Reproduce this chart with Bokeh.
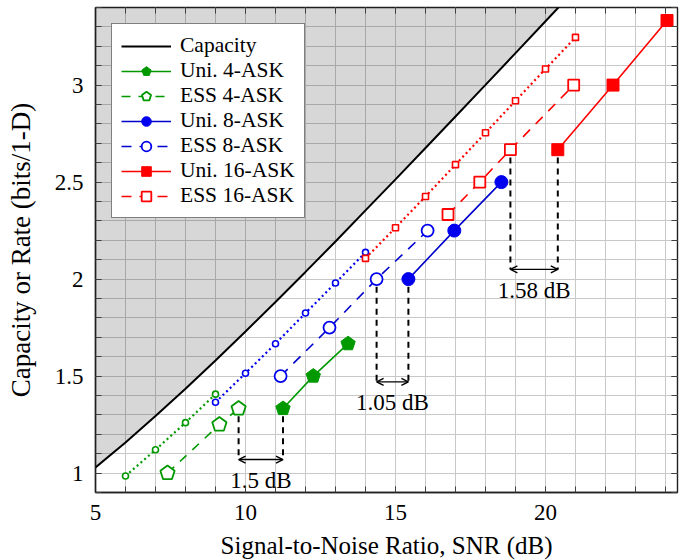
from bokeh.plotting import figure
from bokeh.models import (ColumnDataSource, Legend, LegendItem, LinearAxis,
                          FixedTicker, Range1d, Arrow, OpenHead)
from bokeh.core.properties import value
from bokeh.embed import file_html
from bokeh.resources import INLINE

# ---------------- data ----------------
cap_snr = [5, 6, 7, 8, 9, 10, 11, 12, 13, 14, 15, 16, 17, 18, 19, 20, 21]
cap_rate = [1.029, 1.158, 1.294, 1.435, 1.580, 1.730, 1.882, 2.037, 2.194,
            2.354, 2.514, 2.676, 2.838, 3.001, 3.165, 3.329, 3.494]

fine4_snr = [6, 7, 8, 9]
fine4_rate = [0.985, 1.12, 1.26, 1.407]
fine8_snr = [9, 10, 11, 12, 13, 14]
fine8_rate = [1.365, 1.515, 1.667, 1.825, 1.98, 2.138]
fine16_snr = [14, 15, 16, 17, 18, 19, 20, 21]
fine16_rate = [2.107, 2.265, 2.426, 2.59, 2.754, 2.919, 3.083, 3.246]

uni4_snr = [11.25, 12.26, 13.42]
uni4_rate = [1.333, 1.5, 1.667]
ess4_snr = [7.4, 9.13, 9.77]
ess4_rate = [1.0, 1.25, 1.333]
uni8_snr = [15.43, 16.96, 18.53]
uni8_rate = [2.0, 2.25, 2.5]
ess8_snr = [11.17, 12.8, 14.37, 16.07]
ess8_rate = [1.5, 1.75, 2.0, 2.25]
uni16_snr = [20.41, 22.25, 24.05]
uni16_rate = [2.667, 3.0, 3.333]
ess16_snr = [16.75, 17.81, 18.83, 20.94]
ess16_rate = [2.333, 2.5, 2.667, 3.0]

gap_labels = ["1.5 dB", "1.05 dB", "1.58 dB"]
gap_from = [9.77, 14.37, 18.83]
gap_to = [11.25, 15.43, 20.41]
gap_rate = [1.333, 2.0, 2.667]
gap_arrow = [1.07, 1.47, 2.05]

x_ticks = [5, 10, 15, 20]
y_ticks = [1, 1.5, 2, 2.5, 3]

# ---------------- styling ----------------
FONT = "Liberation Serif"
GREEN = "#009900"
BLUE = "#0000ee"
BLUE_LINE = "#0000cc"
RED = "#ff0000"
GRID = "#c8c8c8"
X0, X1, Y0, Y1 = 5, 24.4, 0.9, 3.4

p = figure(frame_width=582, frame_height=485,
           x_range=Range1d(X0, X1), y_range=Range1d(Y0, Y1),
           output_backend="svg", toolbar_location=None,
           min_border_left=95, min_border_right=3, min_border_top=7,
           min_border_bottom=67)
p.background_fill_color = "white"
p.border_fill_color = "white"
p.outline_line_color = "#202020"
p.outline_line_width = 1.4

x_minor = list(range(5, 25))
y_minor = [round(0.9 + 0.1 * i, 1) for i in range(26)]
xt = FixedTicker(ticks=x_ticks, minor_ticks=x_minor)
yt = FixedTicker(ticks=y_ticks, minor_ticks=y_minor)

for ax, tk in ((p.xaxis[0], xt), (p.yaxis[0], yt)):
    ax.ticker = tk
    ax.major_tick_in = 6
    ax.major_tick_out = 0
    ax.minor_tick_in = 6
    ax.minor_tick_out = 0
    ax.major_tick_line_color = "#404040"
    ax.minor_tick_line_color = "#404040"
    ax.axis_line_color = "#202020"
    ax.axis_line_width = 1.4
    ax.major_label_text_font = FONT
    ax.major_label_text_font_size = "23px"
    ax.major_label_text_color = "black"
    ax.axis_label_text_font = FONT
    ax.axis_label_text_font_style = "normal"
    ax.axis_label_text_color = "black"

p.xaxis[0].axis_label = "Signal-to-Noise Ratio, SNR (dB)"
p.xaxis[0].axis_label_text_font_size = "25px"
p.xaxis[0].major_label_standoff = 12
p.xaxis[0].axis_label_standoff = 9
p.yaxis[0].axis_label = "Capacity or Rate (bits/1-D)"
p.yaxis[0].axis_label_text_font_size = "27px"
p.yaxis[0].major_label_standoff = 12
p.yaxis[0].axis_label_standoff = 16

# mirrored inward ticks on top and right (no labels)
for loc, tk in (("right", yt), ("above", xt)):
    ax = LinearAxis(ticker=tk, major_label_text_font_size="1px",
                    major_label_text_color=None,
                    major_label_standoff=0, major_tick_in=6, major_tick_out=0,
                    minor_tick_in=6, minor_tick_out=0, axis_line_color=None,
                    major_tick_line_color="#404040", minor_tick_line_color="#404040")
    p.add_layout(ax, loc)

p.xgrid.ticker = xt
p.ygrid.ticker = yt
for g in (p.xgrid, p.ygrid):
    g.grid_line_color = GRID
    g.minor_grid_line_color = GRID
    g.grid_line_width = 1
    g.minor_grid_line_width = 1

# shaded region above capacity
p.varea(x=cap_snr, y1=cap_rate, y2=[Y1] * len(cap_snr),
        fill_color="black", fill_alpha=0.155)
cap_r = p.line(cap_snr, cap_rate, line_color="black", line_width=2)

# fine ESS curves (dotted, small markers)
for xs, ys, col, mk in ((fine4_snr, fine4_rate, GREEN, "circle"),
                        (fine8_snr, fine8_rate, BLUE, "circle"),
                        (fine16_snr, fine16_rate, RED, "square")):
    p.line(xs, ys, line_color=col, line_width=2.2, line_dash="2 3")
    p.scatter(xs, ys, marker=mk, size=6, fill_color="white",
              line_color=col, line_width=1.6)

# main series
l_u4 = p.line(uni4_snr, uni4_rate, line_color=GREEN, line_width=1.6)
m_u4 = p.ngon(x=uni4_snr, y=uni4_rate, radius=7.5, radius_units="screen", n=5,
              angle=0, fill_color=GREEN, line_color=GREEN, line_width=1)
l_e4 = p.line(ess4_snr, ess4_rate, line_color=GREEN, line_width=1.6, line_dash="9 8")
m_e4 = p.ngon(x=ess4_snr, y=ess4_rate, radius=7.5, radius_units="screen", n=5,
              angle=0, fill_color="white", line_color=GREEN, line_width=1.8)

l_u8 = p.line(uni8_snr, uni8_rate, line_color=BLUE_LINE, line_width=1.6)
m_u8 = p.scatter(uni8_snr, uni8_rate, marker="circle", size=13,
                 fill_color=BLUE, line_color=BLUE)
l_e8 = p.line(ess8_snr, ess8_rate, line_color=BLUE_LINE, line_width=1.6, line_dash="10 8")
m_e8 = p.scatter(ess8_snr, ess8_rate, marker="circle", size=12,
                 fill_color="white", line_color=BLUE, line_width=1.8)

l_u16 = p.line(uni16_snr, uni16_rate, line_color=RED, line_width=1.6)
m_u16 = p.scatter(uni16_snr, uni16_rate, marker="square", size=12,
                  fill_color=RED, line_color=RED)
l_e16 = p.line(ess16_snr, ess16_rate, line_color=RED, line_width=1.6, line_dash="10 8")
m_e16 = p.scatter(ess16_snr, ess16_rate, marker="square", size=11,
                  fill_color="white", line_color=RED, line_width=1.8)

# gap annotations
gsrc = ColumnDataSource(dict(
    x0=gap_from, x1=gap_to,
    top=[r - 0.04 for r in gap_rate], arr=gap_arrow,
    mid=[(a + b) / 2 for a, b in zip(gap_from, gap_to)],
    label=gap_labels))
p.segment(x0="x0", y0="top", x1="x0", y1="arr", source=gsrc,
          line_color="black", line_width=2, line_dash="6 5")
p.segment(x0="x1", y0="top", x1="x1", y1="arr", source=gsrc,
          line_color="black", line_width=2, line_dash="6 5")
p.add_layout(Arrow(x_start="x0", y_start="arr", x_end="x1", y_end="arr",
                   source=gsrc, line_width=1.4, line_color="black",
                   start=OpenHead(size=7, line_width=1.4),
                   end=OpenHead(size=7, line_width=1.4)))
p.text(x="mid", y="arr", text="label", source=gsrc, text_align="center",
       text_baseline="middle", y_offset=21, text_font=value(FONT),
       text_font_size="23px", text_color="black")

legend = Legend(items=[
    LegendItem(label="Capacity", renderers=[cap_r]),
    LegendItem(label="Uni. 4-ASK", renderers=[l_u4, m_u4]),
    LegendItem(label="ESS 4-ASK", renderers=[l_e4, m_e4]),
    LegendItem(label="Uni. 8-ASK", renderers=[l_u8, m_u8]),
    LegendItem(label="ESS 8-ASK", renderers=[l_e8, m_e8]),
    LegendItem(label="Uni. 16-ASK", renderers=[l_u16, m_u16]),
    LegendItem(label="ESS 16-ASK", renderers=[l_e16, m_e16]),
], location="top_left")
legend.margin = 16
legend.padding = 9
legend.spacing = 0
legend.glyph_width = 50
legend.glyph_height = 24
legend.label_height = 24
legend.label_standoff = 9
legend.label_text_font = FONT
legend.label_text_font_size = "21.5px"
legend.label_text_color = "black"
legend.border_line_color = "black"
legend.border_line_width = 1.3
legend.background_fill_color = "white"
legend.background_fill_alpha = 1
p.add_layout(legend)

open("out.html", "w").write(file_html(p, INLINE))
